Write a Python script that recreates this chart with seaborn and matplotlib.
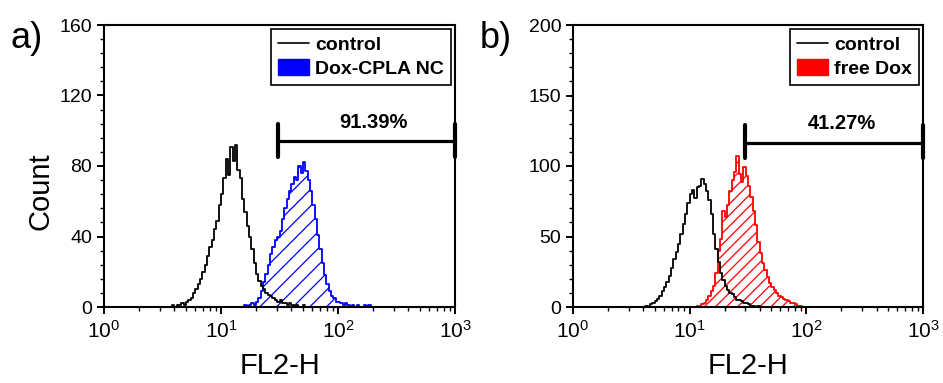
import numpy as np
import pandas as pd
import seaborn as sns
import matplotlib.pyplot as plt
from matplotlib.lines import Line2D
from matplotlib.patches import Patch
from matplotlib.ticker import AutoMinorLocator, MultipleLocator, LogLocator

sns.set_style("ticks")
plt.rcParams['font.family'] = ['Liberation Sans', 'DejaVu Sans']
plt.rcParams['mathtext.fontset'] = 'custom'
plt.rcParams['mathtext.rm'] = 'Liberation Sans'
plt.rcParams['hatch.linewidth'] = 0.9
for k in ['text.color', 'axes.labelcolor', 'xtick.color', 'ytick.color', 'axes.edgecolor']:
    plt.rcParams[k] = 'black'

# channel width in log10 units (FL2-H)
bin_w = 0.02

# panel a) control vs Dox-CPLA NC
ctrl_a_start = 0.56
ctrl_a = [0, 1, 0, 1, 1, 2, 1, 3, 4, 5, 8, 10, 13, 16, 20, 24, 29, 34, 38, 44,
          49, 58, 64, 73, 84, 75, 91, 83, 92, 78, 73, 61, 54, 46, 40, 33, 25, 19,
          15, 12, 10, 8, 7, 6, 5, 4, 3, 4, 2, 2, 1, 2, 1, 0, 1, 0, 0, 1]
nc_start = 1.20
nc_counts = [1, 0, 1, 2, 1, 3, 5, 9, 14, 19, 24, 30, 34, 38, 40, 43, 50, 56, 61,
             66, 70, 74, 72, 80, 76, 82, 77, 72, 66, 58, 50, 41, 33, 25, 18, 13,
             9, 6, 5, 3, 3, 2, 1, 2, 1, 0, 1, 0, 1, 0, 0, 1, 0, 1]

# panel b) control vs free Dox
ctrl_b_start = 0.60
ctrl_b = [0, 1, 0, 2, 3, 4, 6, 8, 11, 14, 18, 22, 28, 34, 39, 45, 52, 59, 66, 74,
          80, 83, 77, 85, 86, 91, 87, 82, 76, 66, 52, 41, 32, 24, 19, 15, 12, 10,
          9, 7, 5, 5, 4, 3, 3, 2, 1, 1, 0, 1]
dox_start = 1.06
dox_counts = [1, 0, 2, 3, 5, 8, 11, 15, 24, 40, 48, 68, 64, 72, 82, 90, 96, 107,
              94, 89, 99, 93, 86, 78, 68, 58, 46, 38, 31, 26, 21, 17, 14, 12, 10,
              8, 7, 6, 5, 4, 3, 3, 2, 1, 1, 0]

# gates
gate_lo = [31, 30]
gate_hi = 1000
gate_y = [94, 116.5]
gate_cap = [(85, 104), (105.5, 129)]
gate_txt = ["91.39%", "41.27%"]
gate_txt_y = [104.5, 130]

panels = [
    dict(ctrl=ctrl_a, ctrl_start=ctrl_a_start, sample=nc_counts, s_start=nc_start,
         color="#0000ff", label="Dox-CPLA NC", ymax=160, ystep=40, hatch="//"),
    dict(ctrl=ctrl_b, ctrl_start=ctrl_b_start, sample=dox_counts, s_start=dox_start,
         color="#ff0000", label="free Dox", ymax=200, ystep=50, hatch="///"),
]


def channels(start, counts):
    # one row per channel: centre value (linear FL2-H) and its event count
    centers = 10 ** (start + bin_w * (np.arange(len(counts)) + 0.5))
    df = pd.DataFrame({"FL2": centers, "n": counts})
    rng = (start, start + bin_w * len(counts))
    return df, rng


fig = plt.figure(figsize=(9.43, 3.83), dpi=100)
W, H = 943, 383
boxes = [(104, 455), (573, 923)]
axes = []
for (l, r) in boxes:
    axes.append(fig.add_axes([l / W, 1 - 307 / H, (r - l) / W, (307 - 25) / H]))

for i, (ax, p) in enumerate(zip(axes, panels)):
    ds, rs = channels(p["s_start"], p["sample"])
    sns.histplot(data=ds, x="FL2", weights="n", binwidth=bin_w, binrange=rs,
                 element="step", fill=True, log_scale=True, color=p["color"],
                 facecolor="none", hatch=p["hatch"], linewidth=1.3, ax=ax)
    dc, rc = channels(p["ctrl_start"], p["ctrl"])
    sns.histplot(data=dc, x="FL2", weights="n", binwidth=bin_w, binrange=rc,
                 element="step", fill=False, log_scale=True, color="black",
                 linewidth=1.3, ax=ax)

    ax.set_xlim(1, 1000)
    ax.set_ylim(0, p["ymax"])
    ax.yaxis.set_major_locator(MultipleLocator(p["ystep"]))
    ax.yaxis.set_minor_locator(AutoMinorLocator(5))
    ax.xaxis.set_major_locator(LogLocator(base=10, numticks=10))
    ax.xaxis.set_minor_locator(LogLocator(base=10, subs=np.arange(2, 10), numticks=10))
    ax.tick_params(which="major", direction="out", length=5, width=1.4)
    ax.tick_params(which="minor", direction="out", length=3, width=1)
    ax.tick_params(axis="y", labelsize=14)
    ax.tick_params(axis="x", labelsize=15, pad=4)
    for s in ax.spines.values():
        s.set_linewidth(1.5)
        s.set_visible(True)

    ax.set_xlabel("FL2-H", fontsize=21)
    ax.xaxis.set_label_coords(0.5, -0.16)
    if i == 0:
        ax.set_ylabel("Count", fontsize=21)
        ax.yaxis.set_label_coords(-0.14, 0.41)
    else:
        ax.set_ylabel("")

    # gate marker
    ax.plot([gate_lo[i], gate_hi], [gate_y[i], gate_y[i]], color="black", lw=2.3,
            clip_on=False)
    for gx in (gate_lo[i], gate_hi):
        ax.plot([gx, gx], gate_cap[i], color="black", lw=3, clip_on=False)
    ax.text(200, gate_txt_y[i], gate_txt[i], ha="center", va="center",
            fontsize=14.5, fontweight="bold")

    handles = [Line2D([], [], color="black", lw=1.2),
               Patch(facecolor=p["color"], edgecolor=p["color"])]
    leg = ax.legend(handles, ["control", p["label"]], loc="upper right",
                    borderaxespad=0.2, fancybox=False, framealpha=1,
                    edgecolor="black", prop=dict(size=14, weight="bold"),
                    handlelength=1.6, handleheight=0.9, handletextpad=0.35,
                    borderpad=0.35, labelspacing=0.25)
    leg.get_frame().set_linewidth(1.2)

fig.text(10 / W, 1 - 38 / H, "a)", fontsize=26, va="center", ha="left")
fig.text(480 / W, 1 - 38 / H, "b)", fontsize=26, va="center", ha="left")

fig.savefig("out.png", dpi=100)
